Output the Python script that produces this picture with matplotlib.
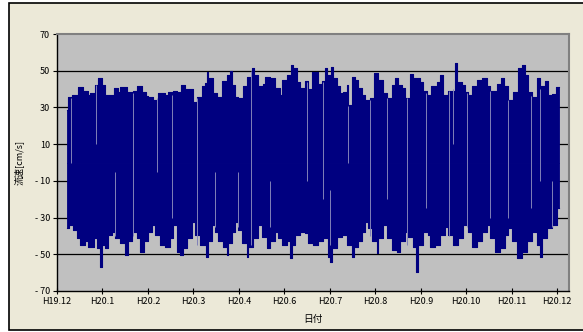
import numpy as np
import matplotlib.pyplot as plt
from matplotlib.patches import Rectangle

plt.rcParams['font.family'] = ['Noto Sans CJK JP', 'DejaVu Sans']

# envelope of the current record: time in months from H19.12, value in cm/s
t_upper = [0.22, 0.24, 0.33, 0.40, 0.46, 0.57, 0.68, 0.73, 0.84, 0.90, 0.95, 0.99,
           1.06, 1.25, 1.34, 1.39, 1.45, 1.54, 1.67, 1.76, 1.87, 1.96, 2.00, 2.11,
           2.22, 2.38, 2.44, 2.55, 2.64, 2.73, 2.82, 2.99, 3.08, 3.19, 3.26, 3.30,
           3.32, 3.43, 3.52, 3.63, 3.74, 3.81, 3.85, 3.92, 3.98, 4.09, 4.18, 4.29,
           4.33, 4.42, 4.53, 4.58, 4.69, 4.80, 4.91, 4.95, 5.06, 5.15, 5.19, 5.28,
           5.35, 5.46, 5.52, 5.61, 5.65, 5.68, 5.74, 5.83, 5.90, 5.94, 6.03, 6.07,
           6.16, 6.23, 6.29, 6.38, 6.40, 6.49, 6.56, 6.62, 6.71, 6.78, 6.89, 6.97,
           7.06, 7.17, 7.26, 7.37, 7.44, 7.50, 7.59, 7.66, 7.77, 7.83, 7.99, 8.05,
           8.14, 8.23, 8.36, 8.43, 8.49, 8.60, 8.76, 8.80, 8.91, 8.98, 9.04, 9.13,
           9.24, 9.35, 9.46, 9.53, 9.68, 9.77, 9.83, 9.92, 10.03, 10.14, 10.23,
           10.30, 10.36, 10.45, 10.56, 10.63, 10.74, 10.80, 10.89, 10.98]
v_upper = [28.6, 35.5, 37, 37, 41.3, 39, 36.8, 38, 42.2, 45.9, 46.3, 42,
           37, 40.4, 38.6, 41, 41, 38.6, 39, 41.6, 38.6, 36, 35.9, 34,
           37.8, 37, 38.6, 39, 38.5, 42.2, 40, 33.1, 35.9, 41.6, 43.1, 49.5,
           45.9, 37.8, 35.9, 44.4, 47.7, 50, 42.2, 35.9, 35, 41.6, 46.8, 51.3,
           47.7, 41.6, 42.5, 46.8, 46, 40.4, 37, 45, 47.7, 53.1, 51.3, 44,
           40.4, 44.5, 40, 49.5, 45, 49.5, 43, 44.4, 51.3, 47.7, 51.9, 46,
           41.6, 37.8, 38.6, 42, 31.3, 46.8, 45, 40.4, 37, 34, 35, 48.6,
           45, 37.8, 35, 42, 46, 42.2, 40.4, 35, 48, 46, 44, 39,
           37, 41.6, 44, 47.7, 37, 39, 54, 44, 42.2, 38.6, 37, 41.6,
           45, 46.3, 41.6, 39, 43, 46, 41.6, 34, 38.6, 51.7, 53.1,
           47.7, 38.6, 35.9, 46.3, 41.6, 44.4, 37, 37.2, 41]

t_lower = [0.22, 0.26, 0.35, 0.44, 0.51, 0.62, 0.68, 0.81, 0.88, 0.95, 0.99, 1.06,
           1.12, 1.21, 1.28, 1.39, 1.50, 1.56, 1.65, 1.76, 1.83, 1.91, 2.00, 2.09,
           2.16, 2.27, 2.38, 2.49, 2.55, 2.64, 2.71, 2.77, 2.86, 2.97, 3.04, 3.15,
           3.28, 3.32, 3.41, 3.48, 3.54, 3.65, 3.74, 3.76, 3.85, 3.92, 3.98, 4.07,
           4.18, 4.20, 4.31, 4.42, 4.51, 4.62, 4.69, 4.80, 4.86, 4.95, 5.06, 5.13,
           5.17, 5.24, 5.35, 5.46, 5.52, 5.63, 5.74, 5.85, 5.96, 6.01, 6.05, 6.16,
           6.27, 6.38, 6.49, 6.53, 6.62, 6.71, 6.78, 6.84, 6.93, 7.04, 7.06, 7.17,
           7.26, 7.37, 7.48, 7.55, 7.66, 7.72, 7.83, 7.90, 7.94, 8.05, 8.16, 8.21,
           8.32, 8.43, 8.54, 8.60, 8.71, 8.82, 8.93, 9.04, 9.13, 9.24, 9.35, 9.46,
           9.53, 9.64, 9.75, 9.86, 9.92, 10.01, 10.12, 10.23, 10.34, 10.45, 10.56,
           10.63, 10.67, 10.78, 10.89, 11.00]
v_lower = [-35.8, -34, -36.7, -41.3, -44.9, -43, -45.8, -41, -46.7, -56.7, -44.9, -46.7,
           -39.5, -37.7, -41.3, -44, -50.4, -43, -37.7, -41.3, -48.6, -43, -37.7, -34,
           -39.5, -44.9, -45.8, -41.3, -34, -48.6, -50.4, -46.7, -41.3, -32.2, -39.5, -44.9,
           -51.3, -43, -34, -37.7, -43, -45.8, -50.4, -44, -37.7, -32.2, -36.7, -44,
           -51.3, -45.8, -41.3, -34, -40.4, -46.7, -43, -37.7, -41.3, -44.9, -43, -52.2,
           -44.9, -39.5, -37.7, -38.6, -44, -44.9, -43, -41.3, -51.3, -54, -46.7, -40.4,
           -39.5, -44.9, -51.3, -45.8, -43, -37.7, -32.2, -35.8, -43, -49.5, -41.3, -34,
           -41.3, -47.6, -48.6, -43, -37.7, -40.4, -45.8, -59.5, -44.9, -37.7, -39.5, -45.8,
           -44.9, -39.5, -34.9, -39.5, -44.9, -41.3, -34, -37.7, -45.8, -43, -37.7, -34,
           -41.3, -48.6, -46.7, -39.5, -35.8, -43, -52.2, -48.6, -43, -37.7, -44.9,
           -51.3, -41.3, -35.8, -34, -25]
t_end = 11.04

# short dropouts in the record (time, lowest and highest value missing)
gap_t = [0.31, 0.86, 1.28, 1.67, 2.20, 2.53, 3.08, 3.48, 3.98, 4.27, 4.69,
         5.50, 5.85, 6.01, 6.40, 6.89, 7.26, 7.70, 8.12, 8.63, 8.71, 9.02,
         9.53, 9.92, 10.43, 10.63, 10.89]
gap_lo = [0, 10, -40, -40, -5, -30, -45, -35, -35, -45, -35,
          -10, -20, -45, 0, -40, -20, -45, -25, -40, 10, -35,
          -30, -30, -25, -10, -35]
gap_hi = [35, 42, -5, 38, 35, 37, 35, -5, -5, 50, -10,
          44, 44, -15, 31, 34, 35, 35, 38, 39, 40, 38,
          39, 34, 36, 40, -10]

month_labels = ['H19.12', 'H20.1', 'H20.2', 'H20.3', 'H20.4', 'H20.6',
                'H20.7', 'H20.8', 'H20.9', 'H20.10', 'H20.11', 'H20.12']
y_ticks = [70, 50, 30, 10, -10, -30, -50, -70]

navy = '#000080'

fig = plt.figure(figsize=(5.83, 3.32), dpi=100, facecolor='white')
frame = Rectangle((9 / 583, 2 / 332), 1.0, 327 / 332, transform=fig.transFigure,
                  facecolor='#ECE9D8', edgecolor='black', linewidth=1.2)
frame.set_zorder(-10)
fig.patches.append(frame)

ax = fig.add_axes([57 / 583, 41 / 332, 512 / 583, 257 / 332])
ax.set_zorder(5)
ax.set_facecolor('#C0C0C0')

tu = np.append(t_upper, t_end)
vu = np.append(v_upper, v_upper[-1])
tl = np.append(t_lower, t_end)
vl = np.append(v_lower, v_lower[-1])
ax.fill_between(tu, vu, 0, step='post', color=navy, linewidth=0.6, zorder=2)
ax.fill_between(tl, vl, 0, step='post', color=navy, linewidth=0.6, zorder=2)
ax.step(tu, vu, where='post', color=navy, linewidth=0.8, zorder=2)
ax.step(tl, vl, where='post', color=navy, linewidth=0.8, zorder=2)
ax.vlines(gap_t, gap_lo, gap_hi, color='#8080b8', linewidth=0.7, zorder=3)

ax.set_xlim(0, 11.26)
ax.set_ylim(-70, 70)
ax.set_yticks(y_ticks)
ax.set_yticklabels([str(v) if v > 0 else '- ' + str(-v) for v in y_ticks])
ax.set_xticks(range(len(month_labels)))
ax.set_xticklabels(month_labels)
for y in y_ticks[1:-1]:
    ax.axhline(y, color='black', linewidth=0.9, zorder=1)

ax.tick_params(axis='both', labelsize=6.5, length=3, width=0.8, color='black', pad=2)
ax.tick_params(axis='x', direction='inout', length=4)
for side in ['left', 'bottom']:
    ax.spines[side].set_color('black')
    ax.spines[side].set_linewidth(1.0)
for side in ['right', 'top']:
    ax.spines[side].set_color('#808080')
    ax.spines[side].set_linewidth(1.5)

ax.set_ylabel('流速[cm/s]', fontsize=6.5, labelpad=8)
ax.set_xlabel('日付', fontsize=7, labelpad=6)

fig.savefig('out.png', dpi=100)
